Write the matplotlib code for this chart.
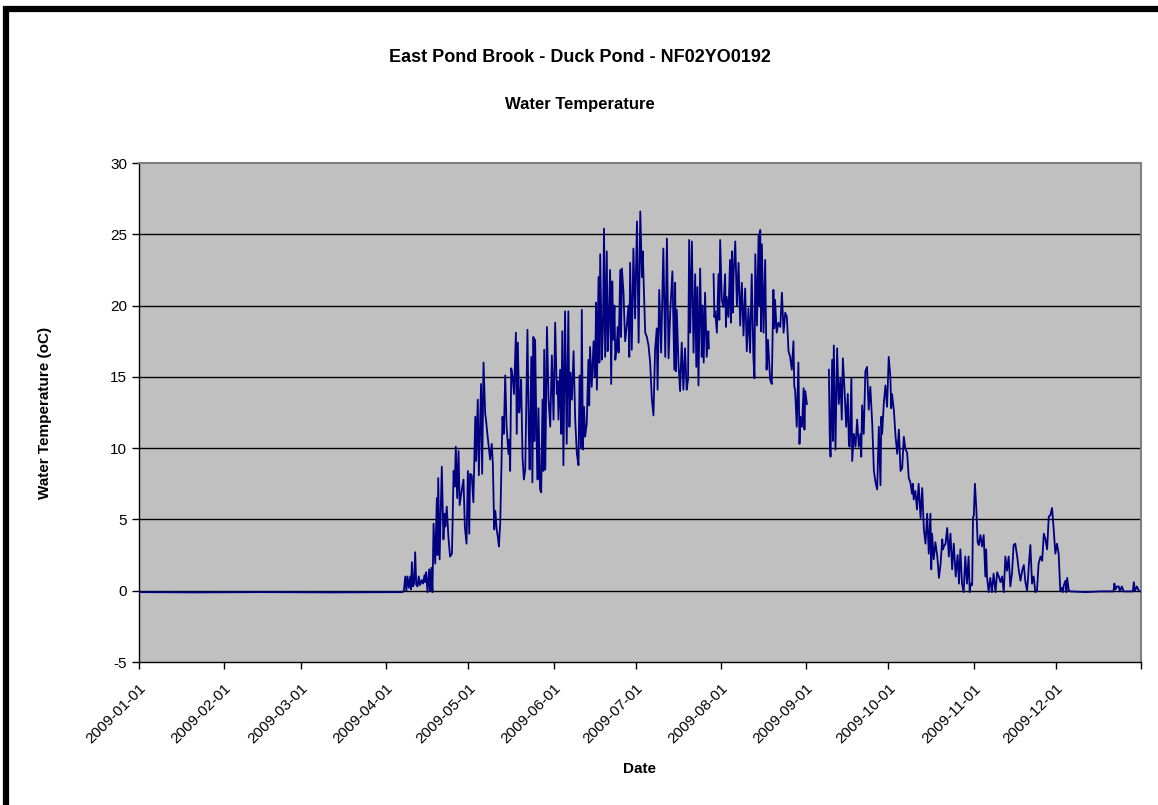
"""Water temperature at East Pond Brook - Duck Pond (NF02YO0192), 2009."""

import numpy as np
import pandas as pd
import matplotlib
matplotlib.use("Agg")
import matplotlib.pyplot as plt
from matplotlib.patches import Rectangle

# ------------------------------------------------------------------ #
# Data: (day of year from 2009-01-01, water temperature in oC),
# read off the chart. NaN marks the gaps in the record.
# ------------------------------------------------------------------ #
winter = [(0, -0.1), (20, -0.12), (45, -0.1), (70, -0.12), (96, -0.1)]

spring = [
    (96.5, 0.0), (97, 1.0), (97.4, 0.0), (97.8, 1.0), (98.3, 0.2), (98.8, 1.0),
    (99.1, 0.1), (99.4, 2.0), (99.8, 0.3), (100.2, 0.5), (100.6, 2.7), (101.0, 0.4),
    (101.5, 0.3), (101.9, 1.0), (102.4, 0.4), (103.0, 0.75), (103.5, 0.5), (104.0, 1.1),
    (104.3, 0.6), (104.6, 1.3), (105.1, -0.1), (105.7, 1.5), (106.0, 0.0), (106.5, 1.6),
    (106.9, -0.1), (107.3, 4.7), (107.9, 1.9), (108.5, 6.5), (108.7, 2.5), (109.0, 7.9),
    (109.5, 2.2), (110.3, 8.7), (110.9, 3.6), (111.3, 5.4), (111.6, 4.5), (112.1, 5.9),
    (112.7, 3.8), (113.3, 2.4), (114.0, 2.6), (114.6, 8.4), (115.0, 7.3), (115.4, 10.1),
    (115.9, 6.5), (116.4, 9.8), (116.8, 6.0), (117.6, 7.1), (118.2, 7.8), (118.7, 4.5),
    (119.3, 3.3), (119.8, 8.4), (120.3, 4.0), (120.6, 8.2), (121.2, 8.1), (121.8, 6.2),
    (122.5, 12.2), (122.8, 9.1), (123.4, 13.4), (123.8, 8.1), (124.6, 14.5), (125.0, 8.2),
    (125.5, 16.0), (126.1, 12.4), (126.4, 12.0), (126.9, 11.0), (127.3, 10.3), (127.9, 9.2),
    (128.5, 10.3), (128.9, 8.9), (129.4, 4.3), (129.8, 5.6), (130.3, 4.3), (130.7, 3.8),
    (131.1, 3.1), (131.6, 4.8), (132.0, 8.5), (132.4, 12.2), (132.9, 11.0), (133.4, 15.1),
    (133.9, 11.5), (134.6, 9.6), (134.9, 10.6), (135.2, 8.4), (135.6, 15.6), (136.1, 15.0),
    (136.6, 13.8), (137.3, 18.1), (137.6, 11.0), (138.0, 17.4), (138.5, 12.5), (138.9, 13.4),
    (139.2, 14.8), (139.7, 9.4), (140.2, 7.8), (140.7, 8.5), (141.5, 18.3), (142.0, 11.0),
    (142.3, 8.5), (142.9, 16.4), (143.3, 7.6), (143.7, 17.8), (144.0, 10.5),
]

early_summer = [
    (144.3, 17.6), (144.8, 10.8), (145.2, 7.8), (145.5, 12.8), (146.1, 7.1), (146.5, 6.9),
    (147.0, 13.4), (147.3, 8.4), (147.6, 16.9), (148.0, 8.5), (148.6, 18.5), (149.2, 13.4),
    (149.8, 11.5), (150.4, 16.5), (151.0, 12.0), (151.6, 18.8), (152.2, 13.8), (152.5, 14.7),
    (152.8, 12.0), (153.4, 15.5), (153.8, 11.0), (154.2, 18.2), (154.6, 8.8), (155.2, 19.6),
    (155.8, 10.3), (156.4, 19.6), (156.8, 11.5), (157.2, 15.3), (157.7, 13.4), (158.3, 16.8),
    (158.9, 12.0), (159.5, 9.6), (160.1, 8.8), (160.5, 15.1), (161.0, 10.0), (161.3, 19.7),
    (161.7, 9.9), (162.1, 12.9), (162.5, 10.8), (163.1, 11.7), (163.7, 16.2), (164.0, 13.0),
    (164.3, 17.1), (164.9, 14.3), (165.6, 17.5), (166.0, 15.0), (166.2, 16.0), (166.5, 20.2),
    (166.8, 14.1), (167.4, 22.0), (167.7, 16.0), (168.0, 23.6), (168.6, 16.2), (169.0, 18.4),
    (169.4, 25.4), (169.8, 16.4), (170.4, 23.8), (170.7, 16.8), (171.0, 18.1), (171.6, 22.5),
    (172.0, 14.5), (172.4, 21.7), (172.8, 17.6), (173.2, 20.0), (173.5, 16.2), (174.0, 17.1),
    (174.4, 18.5), (174.7, 16.7), (175.3, 22.5), (175.6, 17.8), (175.9, 22.6), (176.5, 20.9),
    (176.8, 19.0), (177.1, 17.5), (177.7, 18.6), (178.3, 20.0), (178.6, 16.4), (178.9, 23.0),
    (179.5, 16.9), (180.1, 24.0), (180.7, 19.1), (181.4, 25.9), (182.0, 17.4), (182.6, 26.6),
    (183.2, 22.0), (183.5, 23.8), (183.8, 21.8), (184.4, 18.1), (185.0, 17.8), (185.6, 17.2),
    (186.2, 16.0), (186.8, 13.5), (187.4, 12.3), (188.0, 16.9), (188.6, 18.4), (188.9, 14.1),
    (189.5, 21.1), (190.2, 16.7), (191.0, 24.0), (191.7, 16.4), (192.3, 24.7), (192.9, 16.3),
    (193.5, 19.5), (194.3, 22.4), (195.0, 15.5), (195.3, 21.6), (195.6, 15.4), (195.9, 19.7),
    (196.5, 16.0), (197.1, 14.0), (197.7, 17.4), (198.3, 14.1), (198.9, 17.0), (199.5, 14.1),
    (200.0, 14.8), (200.4, 24.6), (200.8, 18.1), (201.4, 24.5), (202.0, 16.7), (202.6, 22.2),
    (203.0, 15.7), (203.4, 21.3), (203.8, 14.4), (204.4, 22.6), (205.0, 16.4), (205.3, 20.0),
    (205.7, 16.0), (206.2, 20.9), (206.8, 16.4), (207.4, 18.2), (207.6, 17.0),
    (208.4, np.nan),
]

late_summer = [
    (209.3, 22.2), (209.6, 19.2), (209.9, 19.6), (210.5, 18.1), (211.1, 22.2), (211.4, 19.0),
    (211.7, 24.6), (212.3, 20.4), (212.9, 19.9), (213.5, 22.2), (213.8, 18.5), (214.1, 20.6),
    (214.7, 19.2), (215.3, 23.2), (215.6, 18.8), (216.0, 23.8), (216.3, 19.5), (216.6, 22.2),
    (217.2, 24.5), (217.8, 20.0), (218.4, 23.0), (219.0, 18.6), (219.6, 21.6), (220.2, 17.9),
    (220.8, 21.2), (221.4, 16.8), (222.0, 19.8), (222.6, 16.7), (223.2, 22.2), (223.8, 16.4),
    (224.2, 14.9), (224.5, 23.6), (225.1, 18.6), (225.7, 25.0), (226.0, 20.0), (226.3, 25.3),
    (226.6, 18.2), (226.9, 24.3), (227.5, 18.1), (228.1, 23.2), (228.6, 15.5), (229.1, 17.6),
    (229.9, 14.8), (230.5, 14.5), (231.1, 21.1), (231.4, 18.4), (231.7, 20.4), (232.3, 18.1),
    (232.9, 18.8), (233.6, 18.5), (234.2, 20.9), (234.8, 18.1), (235.4, 19.5), (236.0, 19.2),
    (236.6, 16.8), (237.2, 16.4), (237.8, 15.5), (238.4, 17.5), (238.7, 14.3), (239.0, 14.1),
    (239.6, 11.5), (240.2, 16.0), (240.6, 10.3), (240.9, 12.2), (241.5, 11.5), (242.1, 14.2),
    (242.4, 11.3), (242.7, 14.0), (243.3, 13.1),
    (247.0, np.nan),
]

autumn = [
    (251.3, 15.5), (251.6, 11.0), (251.9, 9.4), (252.5, 16.2), (252.8, 10.5), (253.1, 17.2),
    (253.7, 9.9), (254.3, 17.0), (254.9, 13.1), (255.5, 14.9), (256.0, 12.0), (256.4, 16.3),
    (257.0, 14.1), (257.6, 11.5), (258.2, 13.8), (258.6, 10.2), (258.9, 10.1), (259.5, 14.9),
    (259.8, 9.1), (260.4, 11.0), (261.0, 10.1), (261.6, 12.0), (262.2, 10.1), (262.8, 11.0),
    (263.1, 9.4), (263.4, 13.0), (264.0, 11.0), (264.6, 15.4), (265.2, 15.7), (265.8, 12.7),
    (266.4, 14.3), (267.1, 11.7), (267.7, 8.4), (268.3, 7.6), (268.9, 7.1), (269.5, 11.5),
    (270.1, 7.4), (270.4, 12.2), (270.7, 11.0), (271.3, 13.1), (271.9, 14.4), (272.5, 12.9),
    (273.1, 16.4), (273.7, 15.0), (274.0, 12.8), (274.3, 13.8), (275.0, 12.6), (275.6, 10.8),
    (276.2, 9.6), (276.8, 11.3), (277.4, 8.4), (278.0, 8.6), (278.6, 10.8), (279.2, 9.9),
    (279.8, 9.7), (280.4, 7.9), (281.0, 7.6), (281.6, 6.8), (281.9, 7.5), (282.2, 6.4),
    (282.8, 7.0), (283.4, 5.7), (284.0, 7.5), (284.7, 5.1), (285.3, 7.2), (285.9, 4.3),
    (286.5, 3.3), (287.1, 5.4), (287.7, 2.6), (288.3, 5.4), (288.6, 1.5), (288.9, 4.0),
    (289.5, 2.2), (290.1, 3.4), (290.8, 2.4), (291.4, 0.9), (292.0, 1.9), (292.6, 3.6),
    (292.9, 2.9), (293.2, 3.1), (293.8, 3.3), (294.4, 4.4), (295.0, 2.4), (295.6, 4.0),
    (296.2, 1.5), (296.8, 3.3),
]

early_winter = [
    (297.5, 1.0), (298.2, 2.5), (298.7, 0.5), (299.2, 2.9), (299.8, 0.5), (300.4, -0.1),
    (301.0, 2.4), (301.6, 0.5), (302.2, 2.4), (302.6, -0.1), (303.0, 0.5), (303.5, 0.4),
    (303.8, 5.1), (304.1, 5.3), (304.5, 7.5), (305.0, 5.8), (305.5, 3.4), (305.9, 3.2),
    (306.5, 3.9), (307.1, 3.1), (307.7, 3.9), (308.3, 1.0), (308.6, 2.9), (308.9, 1.0),
    (309.5, -0.1), (310.1, 0.9), (310.7, -0.1), (311.3, 1.2), (312.0, -0.1), (312.6, 1.3),
    (313.2, 1.0), (313.8, 0.6), (314.4, 1.0), (315.0, -0.1), (315.6, 2.4), (316.2, 1.4),
    (316.8, 2.4), (317.4, 0.3), (318.0, 1.2), (318.6, 3.2), (319.2, 3.3), (319.9, 2.4),
    (320.5, 1.4), (321.1, 0.7), (321.7, 1.4), (322.3, 1.8), (322.9, 0.6), (323.5, 0.0),
    (323.9, 1.0), (324.1, 1.7), (324.7, 3.2), (325.3, 0.5), (325.9, 1.0), (326.5, -0.1),
    (327.1, 0.0), (327.7, 1.9), (328.4, 2.4), (329.0, 2.1), (329.6, 4.0), (330.2, 3.6),
    (330.8, 2.9), (331.4, 5.2), (332.0, 5.3), (332.6, 5.8), (333.2, 4.3), (333.8, 2.6),
    (334.4, 3.3), (335.0, 2.6), (335.6, 0.0), (336.2, 0.2), (336.5, -0.1), (336.9, 0.4),
    (337.5, 0.7), (337.8, -0.1), (338.1, 0.9), (338.7, 0.0), (339.3, -0.05), (345.0, -0.1),
    (350.0, -0.05), (355.0, -0.05), (355.3, 0.5), (355.7, 0.1), (356.3, 0.3), (356.9, 0.3),
    (357.3, -0.05), (358.0, 0.3), (358.7, -0.05), (362.0, -0.05), (362.4, 0.6), (362.8, 0.0),
    (363.5, 0.3), (364.2, 0.0), (364.8, -0.05),
]

TITLE = "East Pond Brook - Duck Pond - NF02YO0192"
SUBTITLE = "Water Temperature"
Y_LABEL = "Water Temperature (oC)"
X_LABEL = "Date"
Y_TICKS = [-5, 0, 5, 10, 15, 20, 25, 30]
START = pd.Timestamp("2009-01-01")
END = pd.Timestamp("2010-01-01")

plt.rcParams["font.family"] = ["Liberation Sans", "DejaVu Sans"]
plt.rcParams["axes.unicode_minus"] = False

rows = winter + spring + early_summer + late_summer + autumn + early_winter
df = pd.DataFrame(rows, columns=["day", "temp"])
df["date"] = START + pd.to_timedelta(df["day"], unit="D")

W, H = 1158, 805
fig = plt.figure(figsize=(W / 100, H / 100), dpi=100)
ax = fig.add_axes([139 / W, 1 - 662 / H, (1141 - 139) / W, (662 - 163) / H])

ax.set_facecolor("#C0C0C0")
ax.plot(df["date"], df["temp"], color="#000080", lw=1.3, zorder=3)

ax.set_ylim(-5, 30)
ax.set_yticks(Y_TICKS)
ax.set_xlim(START, END)
month_ticks = list(pd.date_range(START, END, freq="MS"))
ax.set_xticks(month_ticks)
ax.set_xticklabels([d.strftime("%Y-%m-%d") if d < END else "" for d in month_ticks],
                   rotation=45, ha="right", va="top", rotation_mode="anchor")

for v in Y_TICKS[1:-1]:
    ax.axhline(v, color="black", lw=1.0, zorder=2)

for side in ["top", "right"]:
    ax.spines[side].set_color("#808080")
    ax.spines[side].set_linewidth(1.5)
for side in ["left", "bottom"]:
    ax.spines[side].set_color("black")
    ax.spines[side].set_linewidth(1.0)

ax.tick_params(axis="both", direction="out", length=5, width=1.0,
               labelsize=11, color="black")
ax.tick_params(axis="x", pad=9)

ax.set_ylabel(Y_LABEL, fontsize=11, fontweight="bold", labelpad=42)
ax.set_xlabel(X_LABEL, fontsize=11, fontweight="bold", labelpad=11)

fig.text(580 / W, 1 - 58 / H, TITLE, ha="center", va="center",
         fontsize=13, fontweight="bold")
fig.text(580 / W, 1 - 105 / H, SUBTITLE, ha="center", va="center",
         fontsize=12, fontweight="bold")

# chart area frame (thick black border, cut off at right and bottom)
fig.patches.append(Rectangle((5.5, -40), 1400, H - 8.5 + 40,
                             transform=None, fill=False,
                             edgecolor="black", lw=4.5))

fig.savefig("out.png", dpi=100)
